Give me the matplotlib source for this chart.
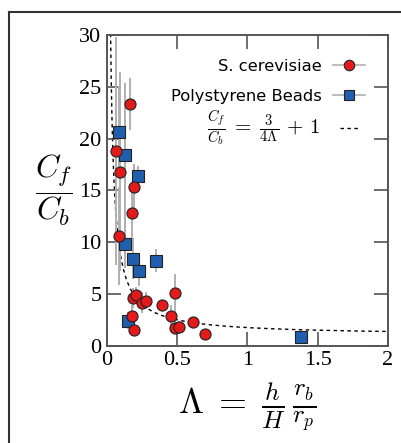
import numpy as np
import matplotlib
matplotlib.use("Agg")
import matplotlib.pyplot as plt
from matplotlib.lines import Line2D

# S. cerevisiae measurements (Lambda, Cf/Cb, error)
yeast_lam = [0.164, 0.064, 0.095, 0.195, 0.176, 0.086, 0.188, 0.210, 0.248, 0.276,
             0.390, 0.486, 0.455, 0.486, 0.514, 0.612, 0.700, 0.176, 0.193]
yeast_c = [23.3, 18.8, 16.8, 15.3, 12.8, 10.6, 4.6, 4.85, 4.17, 4.34,
           3.95, 5.1, 2.9, 1.75, 1.85, 2.27, 1.1, 2.9, 1.52]
yeast_err = [2.5, 11.0, 9.6, 2.2, 2.5, 4.7, 1.0, 0.8, 1.0, 0.8,
             0.5, 1.8, 1.0, 0.6, 0.5, 0.5, 0.4, 1.0, 0.5]

# Polystyrene beads measurements
beads_lam = [0.088, 0.126, 0.224, 0.129, 0.188, 0.231, 0.348, 0.152, 1.383]
beads_c = [20.6, 18.4, 16.35, 9.84, 8.42, 7.25, 8.22, 2.43, 0.82]
beads_err = [4.5, 7.0, 1.0, 2.3, 2.0, 1.5, 1.1, 0.8, 0.2]

red = "#e31a1c"
blue = "#1f5fae"
grey = "#b0b0b0"
dash = (0, (2.5, 2.5))

plt.rcParams["mathtext.fontset"] = "cm"

fig = plt.figure(figsize=(4.02, 4.43), dpi=100)
ax = fig.add_axes([0.266, 0.2196, 0.699, 0.7014])

# model curve Cf/Cb = 3/(4 Lambda) + 1
lam = np.linspace(0.02, 2.0, 600)
ax.plot(lam, 3.0 / (4.0 * lam) + 1.0, ls=dash, color="black", lw=1.0, zorder=1)

ax.errorbar(yeast_lam, yeast_c, yerr=yeast_err, fmt="none", ecolor=grey, elinewidth=1.4, zorder=2)
ax.errorbar(beads_lam, beads_c, yerr=beads_err, fmt="none", ecolor=grey, elinewidth=1.4, zorder=2)
ax.plot(beads_lam, beads_c, ls="none", marker="s", ms=8, mfc=blue, mec="#222222", mew=0.8, zorder=3)
ax.plot(yeast_lam, yeast_c, ls="none", marker="o", ms=8, mfc=red, mec="#222222", mew=0.8, zorder=4)

ax.set_xlim(0, 2)
ax.set_ylim(0, 30)
ax.set_xticks([0, 0.5, 1, 1.5, 2])
ax.set_xticklabels(["0", "0.5", "1", "1.5", "2"])
ax.set_yticks([0, 5, 10, 15, 20, 25, 30])
ax.tick_params(direction="in", length=10, width=1.2, color="#555555",
               top=True, right=True, labelsize=16, pad=4)
for lbl in ax.get_xticklabels() + ax.get_yticklabels():
    lbl.set_fontfamily("Liberation Serif")
for sp in ax.spines.values():
    sp.set_color("#555555")
    sp.set_linewidth(1.4)

ax.set_xlabel(r"$\Lambda\;=\;\frac{h}{H}\,\frac{r_b}{r_p}$", fontsize=26, labelpad=7)
ax.set_ylabel(r"$\dfrac{C_f}{C_b}$", fontsize=23, rotation=0, labelpad=18, va="center")

handles = [
    Line2D([], [], color=grey, lw=1.2, marker="o", ms=7.5, mfc=red, mec="#222222", mew=0.8),
    Line2D([], [], color=grey, lw=1.2, marker="s", ms=7.5, mfc=blue, mec="#222222", mew=0.8),
]
labels = ["S. cerevisiae", "Polystyrene Beads"]
ax.legend(handles, labels, loc="upper right", bbox_to_anchor=(0.9416, 0.945), borderaxespad=0,
          frameon=False, markerfirst=False, fontsize=11.8, handlelength=1.95,
          handletextpad=0.7, labelspacing=0.95)

# third legend entry: the model formula with its dashed sample
ax.text(0.758, 0.70, r"$\frac{C_f}{C_b}\;=\;\frac{3}{4\Lambda}\,+\,1$", transform=ax.transAxes,
        fontsize=15, ha="right", va="center")
ax.add_line(Line2D([0.829, 0.900], [0.70, 0.70], transform=ax.transAxes,
                   color="black", lw=1.0, ls=dash))

# outer frame visible on the left and top edges
fig.add_artist(Line2D([0.022, 0.022], [0, 0.973], color="#333333", lw=1.5, transform=fig.transFigure))
fig.add_artist(Line2D([0.022, 1.0], [0.973, 0.973], color="#333333", lw=1.5, transform=fig.transFigure))

fig.savefig("out.png", dpi=100)
